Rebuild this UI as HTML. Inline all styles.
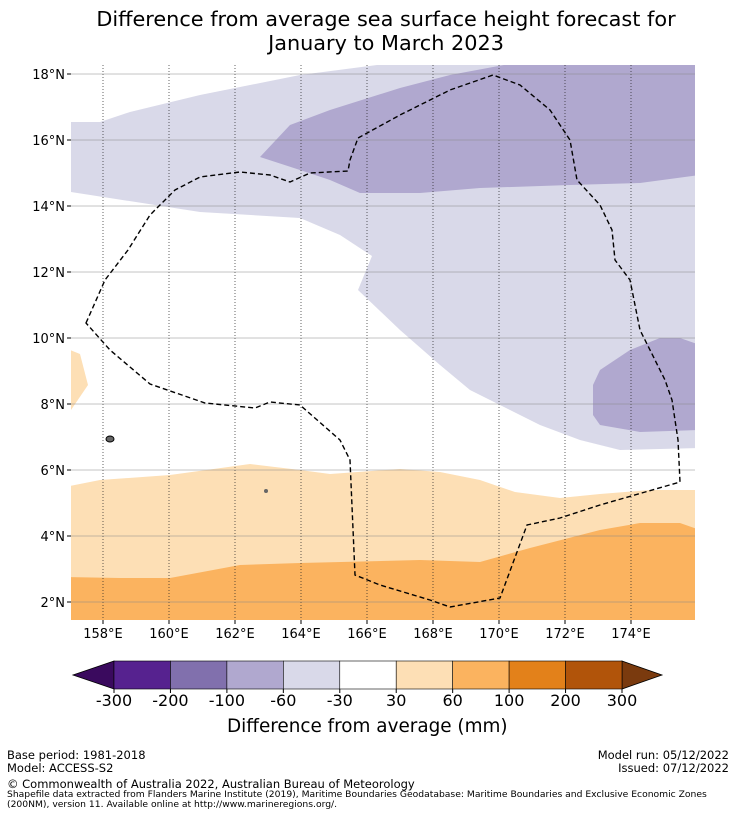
<!DOCTYPE html>
<html><head><meta charset="utf-8"><style>
body{margin:0;background:#fff;width:736px;height:816px;overflow:hidden;font-family:"DejaVu Sans","Liberation Sans",sans-serif;}
.t{position:absolute;color:#000;white-space:nowrap}
</style></head><body>
<div style="position:relative;width:736px;height:816px">
<div class="t" style="left:0;width:772px;top:7px;text-align:center;font-size:20.8px;line-height:24px">Difference from average sea surface height forecast for<br>January to March 2023</div>
<svg id="map" width="736" height="816" style="position:absolute;left:0;top:0;font-family:'DejaVu Sans',sans-serif">
<defs><clipPath id="cp"><rect x="71" y="65" width="624" height="555"/></clipPath></defs>
<g clip-path="url(#cp)">
<rect x="71" y="65" width="624" height="555" fill="#fff"/>
<path fill="#d9d9e9" d="M71,122 L100,122 130,112 200,95 300,75 400,62 700,60 700,448 620,450 580,440 540,425 510,410 470,390 440,365 400,330 358,290 372,256 340,235 300,218 200,212 71,192Z"/>
<path fill="#b0a8cf" d="M260,157 L290,125 330,110 400,88 450,75 520,62 700,62 700,175 640,183 570,185 480,188 420,193 360,193 330,180 300,170Z"/>
<path fill="#b0a8cf" d="M593,385 L600,370 630,350 660,338 680,338 700,345 700,430 640,432 600,425 593,415Z"/>
<path fill="#fddfb5" d="M65,487 L100,480 170,475 250,464 300,470 330,474 400,469 440,472 480,480 515,492 560,498 600,494 650,490 700,490 700,625 65,625Z"/>
<path fill="#fddfb5" d="M65,348 L80,354 88,385 71,410 65,410Z"/>
<path fill="#fbb35f" d="M65,577 L120,578 170,578 240,565 300,563 420,560 480,562 530,548 600,530 640,523 680,523 700,530 700,625 65,625Z"/>
<g id="grid"></g>
<path fill="none" stroke="#000" stroke-width="1.4" stroke-dasharray="5,3" d="M86,323 L105,280 128,250 150,215 175,190 200,177 240,172 270,175 290,182 310,173 348,171 350,160 358,138 400,115 450,90 493,75 520,85 550,110 570,140 577,180 600,205 612,230 615,260 630,280 640,330 665,380 672,400 678,440 680,482 600,505 560,518 527,525 500,598 450,607 430,600 380,585 355,575 350,460 340,440 300,405 270,402 255,408 205,403 150,384 110,350Z"/>
<ellipse cx="110" cy="439" rx="4" ry="3" fill="#666" stroke="#000"/>
<circle cx="266" cy="491" r="2" fill="#666"/>
</g>
<g id="ticks" font-size="13" fill="#000"></g>
<g id="cbar"></g>
</svg>
<div class="t" style="left:227px;top:716px;font-size:18.4px">Difference from average (mm)</div>
<div class="t" style="left:7px;top:748px;font-size:11.5px">Base period: 1981-2018</div>
<div class="t" style="left:7px;top:761px;font-size:11.5px">Model: ACCESS-S2</div>
<div class="t" style="right:7px;top:748px;font-size:11.5px">Model run: 05/12/2022</div>
<div class="t" style="right:7px;top:761px;font-size:11.5px">Issued: 07/12/2022</div>
<div class="t" style="left:7px;top:777px;font-size:11.5px">© Commonwealth of Australia 2022, Australian Bureau of Meteorology</div>
<div class="t" style="left:7px;top:790px;font-size:9.2px;line-height:10px">Shapefile data extracted from Flanders Marine Institute (2019), Maritime Boundaries Geodatabase: Maritime Boundaries and Exclusive Economic Zones<br>(200NM), version 11. Available online at http://www.marineregions.org/.</div>
</div>
<script>
const lonTicks=[158,160,162,164,166,168,170,172,174];
const latTicks=[2,4,6,8,10,12,14,16,18];
const levels=["-300","-200","-100","-60","-30","30","60","100","200","300"];
const colors=["#56228f","#8170ad","#b0a8cf","#d9d9e9","#ffffff","#fddfb5","#fbb35f","#e3811a","#b1540a"];
const lowColor="#3a0a5e", highColor="#7a3a0e";
const NS="http://www.w3.org/2000/svg";
const xLon=l=>103+(l-158)*33, yLat=l=>74+(18-l)*33;
const grid=document.getElementById('grid'),ticks=document.getElementById('ticks'),cb=document.getElementById('cbar');
function mk(tag,at,p){const e=document.createElementNS(NS,tag);for(const k in at)e.setAttribute(k,at[k]);p.appendChild(e);return e;}
lonTicks.forEach(l=>{const x=xLon(l);
 const g=mk('line',{x1:x,x2:x,y1:65,y2:620,stroke:'#222','stroke-width':0.7,'stroke-dasharray':'1,2'},grid);
 
 
 mk('line',{x1:x,x2:x,y1:620,y2:624,stroke:'#000'},ticks);
 const t=mk('text',{x:x,y:638,'text-anchor':'middle'},ticks);t.textContent=l+'°E';
 
 });
latTicks.forEach(l=>{const y=yLat(l);
 const g=mk('line',{x1:71,x2:695,y1:y,y2:y,stroke:'#888','stroke-width':0.5},grid);
 
 
 mk('line',{x1:67,x2:71,y1:y,y2:y,stroke:'#000'},ticks);
 const t=mk('text',{x:65,y:y+5,'text-anchor':'end'},ticks);t.textContent=l+'°N';
 
 });
const cx0=114,cx1=622,cy=661,ch=28,w=(cx1-cx0)/colors.length;
const lt=mk('polygon',{points:`${cx0},${cy} 73,${cy+ch/2} ${cx0},${cy+ch}`,fill:lowColor,stroke:'#000','stroke-width':0.8},cb);


const ht=mk('polygon',{points:`${cx1},${cy} 662,${cy+ch/2} ${cx1},${cy+ch}`,fill:highColor,stroke:'#000','stroke-width':0.8},cb);


colors.forEach((c,i)=>{const r=mk('rect',{x:cx0+i*w,y:cy,width:w,height:ch,fill:c,stroke:'#000','stroke-width':0.6},cb);
 
 });
levels.forEach((v,i)=>{const x=cx0+i*w;
 mk('line',{x1:x,x2:x,y1:cy+ch,y2:cy+ch+4,stroke:'#000'},cb);
 const t=mk('text',{x:x,y:706,'text-anchor':'middle','font-size':16},cb);t.textContent=v;
 
 });
</script>
</body></html>
